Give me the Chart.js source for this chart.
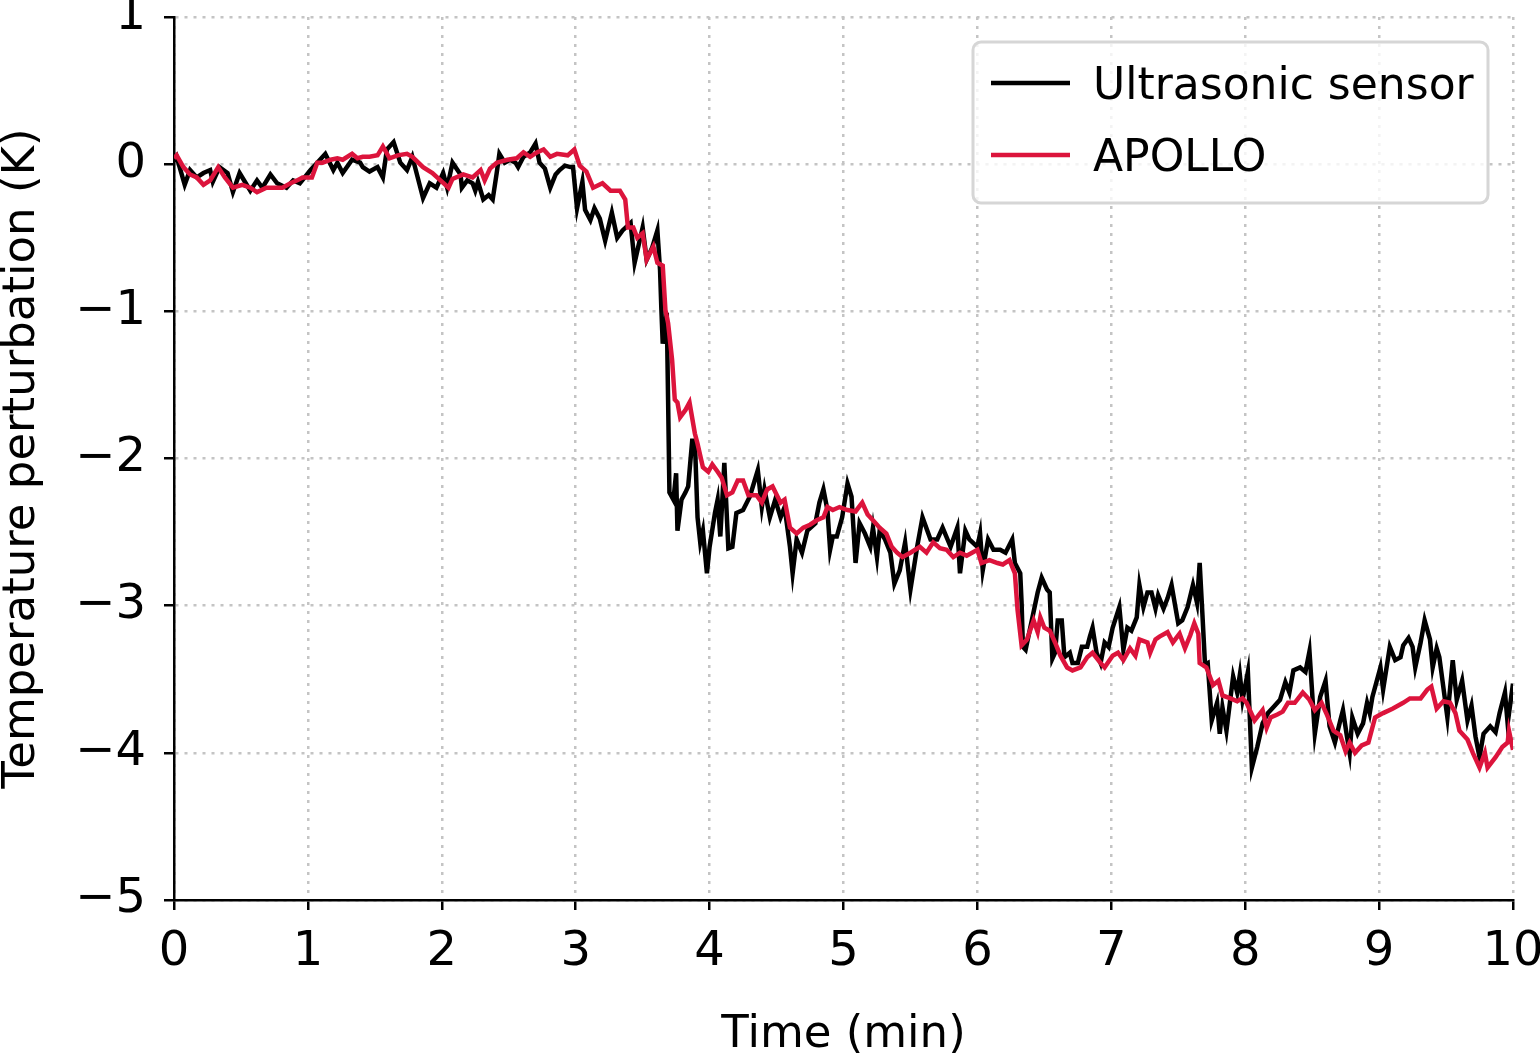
<!DOCTYPE html>
<html lang="en">
<head>
<meta charset="UTF-8">
<title>Temperature perturbation</title>
<script src="https://cdn.jsdelivr.net/npm/chart.js"></script>
<style>
    html, body { margin: 0; padding: 0; background: #fff; }
    #wrap { width: 1540px; height: 1060px; }
</style>
</head>
<body>
<div id="wrap"><canvas id="chart" width="1540" height="1060"></canvas></div>
<script>
// time in minutes, temperature perturbation in K
const ultraTime = [0.00, 0.02, 0.08, 0.12, 0.17, 0.22, 0.27, 0.29, 0.34, 0.40, 0.44, 0.49, 0.57, 0.62, 0.66, 0.72, 0.77, 0.84, 0.89, 0.94,
    1.02, 1.07, 1.13, 1.19, 1.22, 1.26, 1.33, 1.39, 1.41, 1.46, 1.52, 1.56, 1.59, 1.64, 1.69, 1.74, 1.78, 1.84, 1.86, 1.91, 1.96,
    2.01, 2.04, 2.08, 2.14, 2.15, 2.19, 2.23, 2.25, 2.27, 2.31, 2.35, 2.38, 2.41, 2.43, 2.47, 2.51, 2.55, 2.57, 2.61, 2.66, 2.70, 2.73, 2.77, 2.81, 2.85, 2.88, 2.92, 2.96, 2.98,
    3.01, 3.05, 3.07, 3.11, 3.14, 3.18, 3.22, 3.27, 3.31, 3.35, 3.41, 3.44, 3.50, 3.53, 3.57, 3.61, 3.63, 3.64, 3.65, 3.68, 3.69, 3.70, 3.73, 3.75, 3.76, 3.79, 3.82, 3.84, 3.87, 3.89, 3.91, 3.93, 3.95, 3.98,
    4.00, 4.04, 4.06, 4.08, 4.11, 4.14, 4.17, 4.20, 4.25, 4.30, 4.36, 4.39, 4.41, 4.45, 4.49, 4.53, 4.56, 4.60, 4.62, 4.65, 4.69, 4.73, 4.79, 4.82, 4.85, 4.88, 4.90, 4.92, 4.95, 4.99,
    5.03, 5.06, 5.09, 5.12, 5.16, 5.20, 5.22, 5.25, 5.27, 5.31, 5.35, 5.38, 5.42, 5.46, 5.50, 5.55, 5.59, 5.65, 5.70, 5.74, 5.80, 5.85, 5.87, 5.91, 5.94,
    6.00, 6.02, 6.04, 6.08, 6.12, 6.17, 6.21, 6.26, 6.28, 6.32, 6.33, 6.34, 6.36, 6.39, 6.45, 6.48, 6.52, 6.54, 6.56, 6.58, 6.60, 6.63, 6.65, 6.69, 6.71, 6.75, 6.78, 6.82, 6.84, 6.86, 6.89, 6.92, 6.95, 6.98,
    7.01, 7.06, 7.09, 7.12, 7.15, 7.19, 7.21, 7.24, 7.27, 7.30, 7.33, 7.35, 7.39, 7.42, 7.45, 7.50, 7.53, 7.57, 7.61, 7.64, 7.66, 7.68, 7.70, 7.72, 7.75, 7.79, 7.81, 7.83, 7.86, 7.91, 7.94, 7.96, 7.98,
    8.02, 8.05, 8.09, 8.13, 8.17, 8.21, 8.26, 8.30, 8.33, 8.36, 8.41, 8.45, 8.48, 8.52, 8.56, 8.60, 8.63, 8.67, 8.71, 8.73, 8.76, 8.78, 8.80, 8.84, 8.88, 8.91, 8.93, 8.95,
    9.01, 9.03, 9.08, 9.12, 9.16, 9.18, 9.22, 9.25, 9.27, 9.31, 9.34, 9.38, 9.40, 9.43, 9.45, 9.51, 9.55, 9.58, 9.62, 9.66, 9.69, 9.72, 9.75, 9.78, 9.83, 9.87, 9.90, 9.94, 9.96, 10.00];
const ultraTemp = [0.02, 0.05, -0.14, -0.04, -0.09, -0.06, -0.04, -0.12, -0.02, -0.06, -0.19, -0.06, -0.18, -0.11, -0.16, -0.07, -0.13, -0.16, -0.11, -0.13,
    -0.04, 0.01, 0.07, -0.04, 0.01, -0.06, 0.03, 0.01, -0.02, -0.05, -0.02, -0.09, 0.10, 0.15, 0.01, -0.04, 0.05, -0.16, -0.23, -0.13, -0.16,
    -0.06, -0.16, 0.01, -0.07, -0.16, -0.11, -0.13, -0.18, -0.12, -0.24, -0.21, -0.24, -0.06, 0.07, 0.01, 0.03, 0.01, -0.02, 0.05, 0.08, 0.14, 0.01, -0.03, -0.16, -0.07, -0.04, -0.01, -0.02, -0.02,
    -0.30, -0.12, -0.31, -0.38, -0.30, -0.37, -0.52, -0.33, -0.50, -0.45, -0.40, -0.67, -0.43, -0.65, -0.57, -0.45, -0.72, -0.99, -1.22, -1.01, -1.60, -2.23, -2.28, -2.10, -2.49, -2.28, -2.23, -2.19, -1.88, -1.88, -2.40, -2.57, -2.49, -2.78,
    -2.60, -2.37, -2.28, -2.53, -2.03, -2.61, -2.60, -2.37, -2.35, -2.26, -2.08, -2.33, -2.21, -2.40, -2.28, -2.40, -2.33, -2.60, -2.78, -2.55, -2.64, -2.49, -2.44, -2.30, -2.21, -2.35, -2.62, -2.53, -2.53, -2.40,
    -2.17, -2.26, -2.71, -2.44, -2.51, -2.60, -2.47, -2.67, -2.49, -2.55, -2.64, -2.85, -2.76, -2.57, -2.89, -2.60, -2.40, -2.55, -2.55, -2.47, -2.60, -2.47, -2.78, -2.49, -2.55,
    -2.60, -2.51, -2.76, -2.55, -2.62, -2.62, -2.64, -2.55, -2.71, -2.78, -2.98, -3.28, -3.30, -3.17, -2.91, -2.81, -2.89, -2.91, -3.36, -3.32, -3.10, -3.10, -3.35, -3.32, -3.39, -3.39, -3.28, -3.28, -3.21, -3.15, -3.32, -3.39, -3.25, -3.28,
    -3.15, -3.01, -3.30, -3.15, -3.17, -3.08, -2.86, -3.01, -2.91, -2.91, -3.02, -2.93, -3.02, -2.95, -2.86, -3.12, -3.10, -3.01, -2.86, -2.98, -2.71, -3.05, -3.40, -3.39, -3.78, -3.66, -3.87, -3.69, -3.85, -3.48, -3.59, -3.47, -3.64,
    -3.45, -4.10, -3.96, -3.80, -3.73, -3.69, -3.64, -3.52, -3.59, -3.44, -3.42, -3.45, -3.31, -3.87, -3.62, -3.51, -3.82, -3.93, -3.78, -3.71, -3.89, -4.00, -3.76, -3.87, -3.80, -3.66, -3.73, -3.62,
    -3.42, -3.57, -3.28, -3.37, -3.35, -3.27, -3.22, -3.28, -3.42, -3.25, -3.10, -3.23, -3.42, -3.29, -3.35, -3.76, -3.37, -3.64, -3.51, -3.78, -3.68, -3.89, -4.03, -3.87, -3.82, -3.86, -3.73, -3.59, -3.80, -3.53];

const apolloTime = [0.00, 0.02, 0.07, 0.12, 0.17, 0.22, 0.27, 0.33, 0.38, 0.44, 0.51, 0.57, 0.62, 0.69, 0.77, 0.81, 0.87, 0.92, 0.96,
    1.03, 1.07, 1.11, 1.17, 1.22, 1.26, 1.33, 1.37, 1.41, 1.46, 1.52, 1.56, 1.61, 1.67, 1.74, 1.78, 1.86, 1.93, 1.99,
    2.05, 2.08, 2.16, 2.23, 2.29, 2.32, 2.36, 2.41, 2.49, 2.56, 2.61, 2.66, 2.71, 2.76, 2.81, 2.86, 2.94, 2.99,
    3.03, 3.08, 3.13, 3.20, 3.26, 3.33, 3.37, 3.39, 3.43, 3.46, 3.50, 3.53, 3.58, 3.61, 3.65, 3.67, 3.69, 3.72, 3.74, 3.76, 3.78, 3.82, 3.85, 3.89, 3.91, 3.95, 3.99,
    4.02, 4.06, 4.09, 4.13, 4.17, 4.21, 4.25, 4.29, 4.35, 4.39, 4.43, 4.47, 4.53, 4.56, 4.60, 4.65, 4.70, 4.75, 4.80, 4.85, 4.88, 4.92, 4.97,
    5.03, 5.09, 5.14, 5.18, 5.22, 5.27, 5.32, 5.36, 5.40, 5.44, 5.50, 5.57, 5.62, 5.67, 5.72, 5.77, 5.82, 5.87, 5.92,
    6.00, 6.03, 6.09, 6.15, 6.19, 6.24, 6.28, 6.30, 6.33, 6.37, 6.42, 6.45, 6.47, 6.50, 6.54, 6.58, 6.62, 6.67, 6.71, 6.77, 6.82, 6.86, 6.92, 6.95,
    7.01, 7.05, 7.09, 7.14, 7.18, 7.21, 7.27, 7.29, 7.33, 7.36, 7.42, 7.46, 7.51, 7.55, 7.59, 7.62, 7.65, 7.66, 7.71, 7.76, 7.80, 7.83, 7.89, 7.94, 7.98,
    8.01, 8.07, 8.13, 8.16, 8.19, 8.24, 8.28, 8.32, 8.37, 8.43, 8.48, 8.52, 8.57, 8.61, 8.66, 8.71, 8.75, 8.78, 8.82, 8.87, 8.92, 8.97,
    9.03, 9.10, 9.18, 9.23, 9.31, 9.36, 9.39, 9.43, 9.48, 9.53, 9.57, 9.60, 9.66, 9.70, 9.75, 9.79, 9.81, 9.87, 9.92, 9.96, 9.97, 10.00];
const apolloTemp = [0.04, 0.06, -0.02, -0.07, -0.09, -0.14, -0.11, -0.02, -0.09, -0.16, -0.14, -0.16, -0.19, -0.16, -0.16, -0.16, -0.13, -0.11, -0.09,
    -0.09, 0.01, 0.01, 0.03, 0.04, 0.03, 0.07, 0.04, 0.05, 0.05, 0.06, 0.12, 0.04, 0.06, 0.07, 0.05, -0.02, -0.06, -0.11,
    -0.16, -0.10, -0.07, -0.09, -0.04, -0.11, -0.03, 0.01, 0.03, 0.04, 0.08, 0.05, 0.08, 0.10, 0.05, 0.07, 0.06, 0.10,
    -0.01, -0.05, -0.16, -0.13, -0.18, -0.18, -0.24, -0.43, -0.43, -0.50, -0.47, -0.65, -0.56, -0.67, -0.69, -0.99, -1.08, -1.33, -1.60, -1.62, -1.72, -1.67, -1.62, -1.83, -1.90, -2.06, -2.09,
    -2.04, -2.09, -2.13, -2.25, -2.23, -2.15, -2.15, -2.25, -2.25, -2.30, -2.21, -2.19, -2.30, -2.28, -2.47, -2.51, -2.47, -2.45, -2.42, -2.40, -2.33, -2.35, -2.33,
    -2.35, -2.36, -2.30, -2.38, -2.42, -2.47, -2.51, -2.60, -2.64, -2.67, -2.64, -2.60, -2.64, -2.57, -2.61, -2.62, -2.67, -2.64, -2.66,
    -2.62, -2.71, -2.69, -2.71, -2.72, -2.69, -2.78, -3.03, -3.27, -3.23, -3.10, -3.18, -3.08, -3.15, -3.17, -3.25, -3.34, -3.42, -3.44, -3.42, -3.35, -3.32, -3.39, -3.42,
    -3.34, -3.32, -3.37, -3.29, -3.34, -3.23, -3.25, -3.32, -3.23, -3.21, -3.18, -3.25, -3.19, -3.29, -3.20, -3.12, -3.19, -3.39, -3.42, -3.54, -3.51, -3.61, -3.63, -3.65, -3.63,
    -3.66, -3.78, -3.71, -3.83, -3.76, -3.74, -3.72, -3.66, -3.66, -3.59, -3.64, -3.71, -3.66, -3.74, -3.85, -3.88, -3.99, -3.93, -4.00, -3.95, -3.93, -3.76,
    -3.73, -3.70, -3.66, -3.63, -3.63, -3.57, -3.55, -3.70, -3.65, -3.66, -3.73, -3.85, -3.91, -4.00, -4.10, -4.00, -4.10, -4.03, -3.96, -3.93, -3.85, -3.98];

const seriesNames = ['Ultrasonic sensor', 'APOLLO'];
const seriesColors = ['#000000', '#dc143c'];
const xTicks = [0, 1, 2, 3, 4, 5, 6, 7, 8, 9, 10];
const yTicks = [1, 0, -1, -2, -3, -4, -5];

const FONT = "'DejaVu Sans', Verdana, sans-serif";

function toPoints(xs, ys) {
    return xs.map((x, i) => ({ x: x, y: ys[i] }));
}

// legend box drawn inside the plot, upper right, like matplotlib
const innerLegend = {
    id: 'innerLegend',
    afterDraw(chart) {
        const ctx = chart.ctx;
        const area = chart.chartArea;
        const w = 515, h = 161;
        const x0 = area.right - 25 - w, y0 = area.top + 25;
        ctx.save();
        ctx.beginPath();
        ctx.roundRect(x0, y0, w, h, 8);
        ctx.fillStyle = 'rgba(255,255,255,0.8)';
        ctx.fill();
        ctx.lineWidth = 3;
        ctx.strokeStyle = '#d6d6d6';
        ctx.stroke();
        ctx.font = '44px ' + FONT;
        ctx.textBaseline = 'middle';
        ctx.textAlign = 'left';
        seriesNames.forEach((name, i) => {
            const cy = y0 + 41 + i * 72;
            ctx.beginPath();
            ctx.moveTo(x0 + 18, cy);
            ctx.lineTo(x0 + 97, cy);
            ctx.lineWidth = 4.5;
            ctx.strokeStyle = seriesColors[i];
            ctx.stroke();
            ctx.fillStyle = '#000';
            ctx.fillText(name, x0 + 120, cy + 5);
        });
        ctx.restore();
    }
};

const minus = v => String(v).replace('-', '\u2212');

new Chart(document.getElementById('chart'), {
    type: 'line',
    data: {
        datasets: [
            {
                label: seriesNames[0],
                data: toPoints(ultraTime, ultraTemp),
                borderColor: seriesColors[0],
                borderWidth: 4.5,
                pointRadius: 0,
                tension: 0,
                order: 2
            },
            {
                label: seriesNames[1],
                data: toPoints(apolloTime, apolloTemp),
                borderColor: seriesColors[1],
                borderWidth: 4.5,
                pointRadius: 0,
                tension: 0,
                order: 1
            }
        ]
    },
    options: {
        responsive: false,
        animation: false,
        devicePixelRatio: 1,
        layout: { padding: { top: 17, right: 27, bottom: 0, left: 0 } },
        plugins: { legend: { display: false }, tooltip: { enabled: false } },
        scales: {
            x: {
                type: 'linear',
                min: 0,
                max: 10,
                afterBuildTicks: s => { s.ticks = xTicks.map(v => ({ value: v })); },
                afterFit: s => { s.height = 160; s.paddingLeft = 0; s.paddingRight = 0; },
                ticks: {
                    color: '#000',
                    font: { family: FONT, size: 48 },
                    padding: 14,
                    maxRotation: 0,
                    callback: v => minus(v)
                },
                grid: {
                    color: '#c4c4c4',
                    lineWidth: 2.5,
                    tickColor: '#000',
                    tickLength: 10,
                    tickWidth: 2.5,
                    tickBorderDash: []
                },
                border: { color: '#000', width: 2.5, dash: [3, 6] },
                title: {
                    display: true,
                    text: 'Time (min)',
                    color: '#000',
                    font: { family: FONT, size: 45, lineHeight: 1 },
                    padding: { top: 0, bottom: 2 }
                }
            },
            y: {
                min: -5,
                max: 1,
                afterBuildTicks: s => { s.ticks = yTicks.map(v => ({ value: v })); },
                afterFit: s => { s.width = 174; s.paddingTop = 0; s.paddingBottom = 0; },
                ticks: {
                    color: '#000',
                    font: { family: FONT, size: 48 },
                    padding: 18,
                    callback: v => minus(v)
                },
                grid: {
                    color: '#c4c4c4',
                    lineWidth: 2.5,
                    tickColor: '#000',
                    tickLength: 10,
                    tickWidth: 2.5,
                    tickBorderDash: []
                },
                border: { color: '#000', width: 2.5, dash: [3, 6] },
                title: {
                    display: true,
                    text: 'Temperature perturbation (K)',
                    color: '#000',
                    font: { family: FONT, size: 45, lineHeight: 1 },
                    padding: { top: 0, bottom: 0 }
                }
            }
        }
    },
    plugins: [innerLegend]
});
</script>
</body>
</html>
